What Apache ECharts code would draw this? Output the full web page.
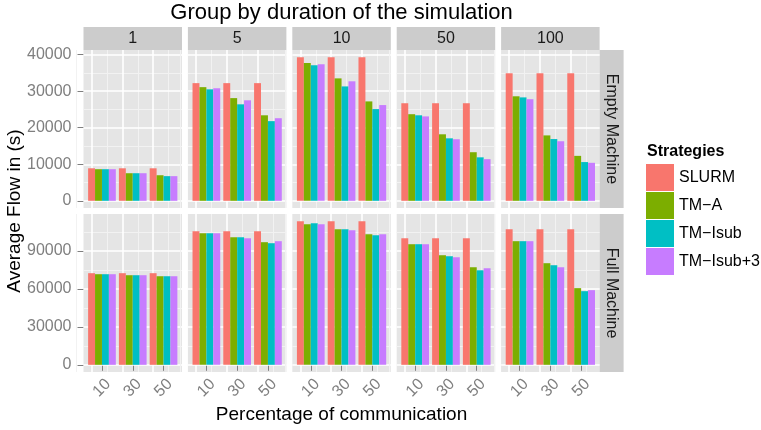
<!DOCTYPE html>
<html><head><meta charset="utf-8">
<script src="https://cdn.jsdelivr.net/npm/echarts@6/dist/echarts.min.js"></script>
<style>html,body{margin:0;padding:0;background:#fff}#c{width:761px;height:430px}</style>
</head><body><div id="c"></div>
<script>
// ---------- data ----------
const durations = ['1', '5', '10', '50', '100'];
const machines = ['Empty Machine', 'Full Machine'];
const commLabels = ['10', '30', '50'];
const strategies = ['SLURM', 'TM\u2212A', 'TM\u2212Isub', 'TM\u2212Isub+3'];
const yTicksEmpty = [0, 10000, 20000, 30000, 40000];
const yTicksFull = [0, 30000, 60000, 90000];

// rows: durations 1,5,10,50,100 ; columns: communication 10,30,50
const emptySLURM = [[8900, 8900, 8900], [32200, 32200, 32200], [39300, 39300, 39300], [26700, 26700, 26700], [34900, 34900, 34900]];
const emptyTMA   = [[8650, 7550, 7000], [31100, 28100, 23400], [37700, 33500, 27200], [23700, 18200, 13300], [28600, 17900, 12300]];
const emptyTMIsub  = [[8650, 7550, 6750], [30500, 26400, 21800], [37100, 31300, 25100], [23400, 17100, 11900], [28300, 16900, 10600]];
const emptyTMIsub3 = [[8650, 7550, 6750], [30800, 27500, 22600], [37400, 32700, 26200], [23100, 16850, 11400], [27800, 16300, 10400]];

const fullSLURM = [[72400, 72400, 72400], [105600, 105600, 105600], [113500, 113500, 113500], [100000, 100000, 100000], [107100, 107100, 107100]];
const fullTMA   = [[71600, 70800, 70000], [104000, 100800, 96900], [111100, 107100, 103200], [95300, 86600, 77100], [97700, 80300, 60600]];
const fullTMIsub  = [[71600, 70800, 70000], [104000, 100800, 96100], [111900, 107100, 102400], [95300, 85800, 74700], [97700, 78700, 58200]];
const fullTMIsub3 = [[71600, 70800, 70000], [104000, 100000, 97700], [111100, 106300, 103200], [95300, 85000, 76300], [97700, 77100, 59000]];

// ---------- build ----------
const FONT = '"Liberation Sans", Arial, Helvetica, sans-serif';
const colors = ['#F8766D', '#7CAE00', '#00BFC4', '#C77CFF'];
const rowData = [
  [emptySLURM, emptyTMA, emptyTMIsub, emptyTMIsub3],
  [fullSLURM, fullTMA, fullTMIsub, fullTMIsub3]
];
const rowTicks = [yTicksEmpty, yTicksFull];

const panelLeft = [83.5, 187.9, 292.3, 396.7, 501.1];
const panelW = 98.5;
const panelTop = [50, 214];
const panelH = 158;

const grids = [], xAxes = [], yAxes = [], series = [], graphics = [];
const xMin = 0.4, xMax = commLabels.length + 0.6;
const xMajor = commLabels.map((c, i) => i + 1);
const xMinor = [0.5].concat(commLabels.map((c, i) => i + 1.5));

rowData.forEach((sets, r) => {
  let vmax = 0;
  sets.forEach(s => s.forEach(row => row.forEach(v => { if (v > vmax) vmax = v; })));
  const yMin = -0.05 * vmax, yMax = 1.05 * vmax;
  const ticks = rowTicks[r];
  const step = ticks[1] - ticks[0];
  const yMinor = [];
  if (ticks[0] - step / 2 >= yMin) yMinor.push(ticks[0] - step / 2);
  ticks.forEach(t => { if (t + step / 2 <= yMax) yMinor.push(t + step / 2); });

  durations.forEach((d, c) => {
    const g = grids.length;
    grids.push({ left: panelLeft[c], top: panelTop[r], width: panelW, height: panelH,
      show: true, backgroundColor: '#E5E5E5', borderWidth: 0 });
    xAxes.push({
      type: 'value', gridIndex: g, min: xMin, max: xMax,
      axisLine: { show: false },
      splitLine: { show: false },
      axisTick: { show: r === 1, customValues: xMajor, length: 6, lineStyle: { color: '#7F7F7F', width: 1 } },
      axisLabel: { show: r === 1, customValues: xMajor, formatter: v => commLabels[Math.round(v) - 1],
        rotate: 45, align: 'center', verticalAlign: 'middle', margin: 16,
        color: '#7F7F7F', fontSize: 16, fontFamily: FONT }
    });
    yAxes.push({
      type: 'value', gridIndex: g, min: yMin, max: yMax,
      axisLine: { show: false },
      splitLine: { show: false },
      axisTick: { show: c === 0, customValues: ticks, length: 6, lineStyle: { color: '#7F7F7F', width: 1 } },
      axisLabel: { show: c === 0, customValues: ticks, formatter: v => String(Math.round(v)), margin: 12,
        color: '#7F7F7F', fontSize: 16, fontFamily: FONT }
    });
    const gridLines = []
      .concat(yMinor.map(v => ({ yAxis: v, lineStyle: { color: '#F2F2F2', width: 1 } })))
      .concat(xMinor.map(v => ({ xAxis: v, lineStyle: { color: '#F2F2F2', width: 1 } })))
      .concat(ticks.map(v => ({ yAxis: v, lineStyle: { color: '#FFFFFF', width: 1.6 } })))
      .concat(xMajor.map(v => ({ xAxis: v, lineStyle: { color: '#FFFFFF', width: 1.6 } })));
    strategies.forEach((s, k) => {
      const vals = sets[k][c];
      const ser = {
        type: 'bar', name: s, xAxisIndex: g, yAxisIndex: g,
        data: vals.map((v, i) => [i + 1, v]),
        itemStyle: { color: colors[k] },
        barGap: '0%', barCategoryGap: '10%',
        emphasis: { disabled: true }
      };
      if (k === 0) {
        ser.markLine = { silent: true, symbol: 'none', z: 1, animation: false,
          label: { show: false }, emphasis: { disabled: true },
          lineStyle: { type: 'solid' }, data: gridLines };
      }
      series.push(ser);
    });
  });

  // right strip
  graphics.push({ type: 'rect', shape: { x: panelLeft[4] + panelW, y: panelTop[r], width: 24, height: panelH },
    style: { fill: '#CCCCCC' }, silent: true });
  graphics.push({ type: 'text', x: panelLeft[4] + panelW + 12, y: panelTop[r] + panelH / 2, rotation: -Math.PI / 2,
    style: { text: machines[r], fontSize: 16, fontFamily: FONT, fill: '#1A1A1A', align: 'center', verticalAlign: 'middle' }, silent: true });
});

// top strips
durations.forEach((d, c) => {
  graphics.push({ type: 'rect', shape: { x: panelLeft[c], y: 27, width: panelW, height: 23 },
    style: { fill: '#CCCCCC' }, silent: true });
  graphics.push({ type: 'text', x: panelLeft[c] + panelW / 2, y: 38.5,
    style: { text: d, fontSize: 16, fontFamily: FONT, fill: '#1A1A1A', align: 'center', verticalAlign: 'middle' }, silent: true });
});

const plotCenterX = (panelLeft[0] + panelLeft[4] + panelW) / 2;
graphics.push({ type: 'text', x: plotCenterX, y: 13,
  style: { text: 'Group by duration of the simulation', fontSize: 22, fontFamily: FONT, fill: '#000', align: 'center', verticalAlign: 'middle' } });
graphics.push({ type: 'text', x: plotCenterX, y: 415,
  style: { text: 'Percentage of communication', fontSize: 19, fontFamily: FONT, fill: '#000', align: 'center', verticalAlign: 'middle' } });
graphics.push({ type: 'text', x: 15, y: (panelTop[0] + panelTop[1] + panelH) / 2, rotation: Math.PI / 2,
  style: { text: 'Average Flow in (s)', fontSize: 19, fontFamily: FONT, fill: '#000', align: 'center', verticalAlign: 'middle' } });
graphics.push({ type: 'text', x: 647, y: 152,
  style: { text: 'Strategies', fontSize: 16, fontWeight: 'bold', fontFamily: FONT, fill: '#000', align: 'left', verticalAlign: 'middle' } });

const chart = echarts.init(document.getElementById('c'), null, { renderer: 'canvas' });
chart.setOption({
  animation: false,
  backgroundColor: '#FFFFFF',
  grid: grids,
  xAxis: xAxes,
  yAxis: yAxes,
  series: series,
  legend: {
    orient: 'vertical', left: 646, top: 164, padding: 0,
    itemWidth: 28, itemHeight: 27, itemGap: 1, icon: 'rect', selectedMode: false,
    textStyle: { fontSize: 16, fontFamily: FONT, color: '#000' },
    data: strategies
  },
  graphic: graphics
});
</script>
</body></html>
